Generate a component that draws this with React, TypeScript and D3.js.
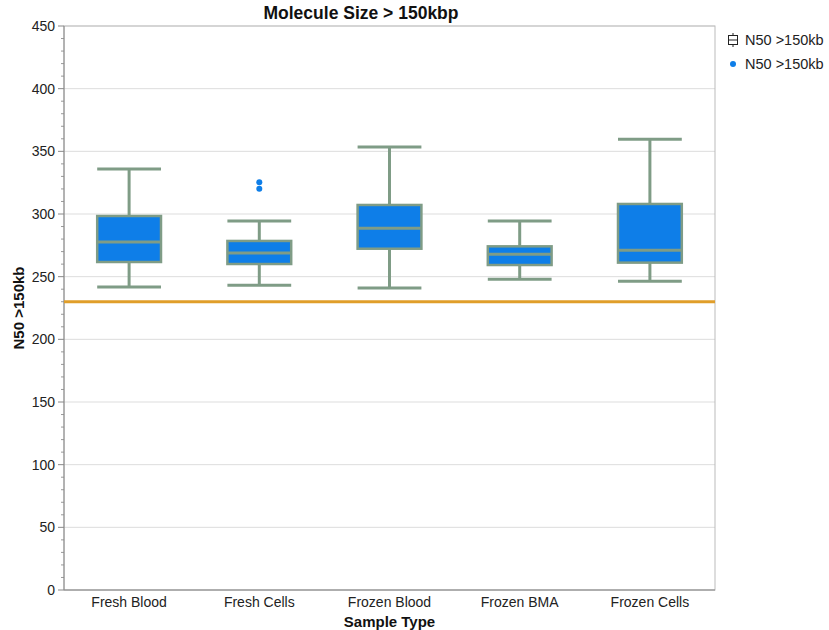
import React from "react";
import * as d3 from "d3";

const categories = ["Fresh Blood", "Fresh Cells", "Frozen Blood", "Frozen BMA", "Frozen Cells"];
const lowerWhisker = [241.8, 243.1, 241, 247.9, 246.3];
const q1 = [261.7, 260.1, 272.3, 259.3, 261.2];
const medians = [277.7, 268.9, 288.6, 267.8, 271];
const q3 = [298.4, 278.5, 307.2, 274.2, 308];
const upperWhisker = [336, 294.4, 353.5, 294.4, 359.6];
const outliers = [
  { cat: "Fresh Cells", value: 325.3 },
  { cat: "Fresh Cells", value: 320.2 },
];
const threshold = 230;
const yTicks = [0, 50, 100, 150, 200, 250, 300, 350, 400, 450];

const W = 829;
const H = 630;
const margin = { left: 64, right: 114, top: 26, bottom: 40 };
const font = "'Liberation Sans', Arial, Helvetica, sans-serif";
const boxFill = "#0e7ee8";
const boxStroke = "#7f9c86";

const App = () => {
  const x = d3
    .scaleBand()
    .domain(categories)
    .range([margin.left, W - margin.right])
    .paddingInner(0.51)
    .paddingOuter(0.255);
  const y = d3.scaleLinear().domain([0, 450]).range([H - margin.bottom, margin.top]);
  const minor = d3.range(0, 451, 10).filter(v => v % 50 !== 0);
  const bw = x.bandwidth();
  const x0 = margin.left;
  const x1 = W - margin.right;

  return (
    <svg width={W} height={H} style={{ position: "absolute", left: 0, top: 0 }} fontFamily={font}>
      <rect width={W} height={H} fill="#fff" />
      {yTicks.map(t => (
        <line key={t} x1={x0} x2={x1} y1={y(t)} y2={y(t)} stroke="#dddddd" strokeWidth={1} />
      ))}
      <rect x={x0} y={margin.top} width={x1 - x0} height={y(0) - margin.top} fill="none" stroke="#bbbbbb" />
      {minor.map(t => (
        <line key={t} x1={x0 - 3} x2={x0} y1={y(t)} y2={y(t)} stroke="#999" />
      ))}
      {yTicks.map(t => (
        <g key={t}>
          <line x1={x0 - 6} x2={x0} y1={y(t)} y2={y(t)} stroke="#888" />
          <text x={x0 - 9} y={y(t)} dy="0.35em" textAnchor="end" fontSize={14} fill="#222">
            {t}
          </text>
        </g>
      ))}
      <line x1={x0} x2={x0} y1={margin.top} y2={y(0)} stroke="#888" />
      <line x1={x0} x2={x1} y1={y(0)} y2={y(0)} stroke="#888" />
      {categories.map(c => (
        <text key={c} x={(x(c) ?? 0) + bw / 2} y={y(0) + 17} textAnchor="middle" fontSize={14} fill="#222">
          {c}
        </text>
      ))}
      {categories.map((c, i) => {
        const left = x(c) ?? 0;
        const cx = left + bw / 2;
        return (
          <g key={c}>
            <line x1={cx} x2={cx} y1={y(upperWhisker[i])} y2={y(q3[i])} stroke={boxStroke} strokeWidth={3} />
            <line x1={cx} x2={cx} y1={y(q1[i])} y2={y(lowerWhisker[i])} stroke={boxStroke} strokeWidth={3} />
            <line x1={left} x2={left + bw} y1={y(upperWhisker[i])} y2={y(upperWhisker[i])} stroke={boxStroke} strokeWidth={3} />
            <line x1={left} x2={left + bw} y1={y(lowerWhisker[i])} y2={y(lowerWhisker[i])} stroke={boxStroke} strokeWidth={3} />
            <rect
              x={left}
              y={y(q3[i])}
              width={bw}
              height={y(q1[i]) - y(q3[i])}
              fill={boxFill}
              stroke={boxStroke}
              strokeWidth={2.5}
            />
            <line x1={left} x2={left + bw} y1={y(medians[i])} y2={y(medians[i])} stroke={boxStroke} strokeWidth={3} />
          </g>
        );
      })}
      {outliers.map((o, i) => (
        <circle key={i} cx={(x(o.cat) ?? 0) + bw / 2} cy={y(o.value)} r={3} fill={boxFill} />
      ))}
      <line x1={x0} x2={x1} y1={y(threshold)} y2={y(threshold)} stroke="#e09e2a" strokeWidth={3} />
      <text x={361} y={19} textAnchor="middle" fontSize={17.5} fontWeight="bold" fill="#111">
        Molecule Size &gt; 150kbp
      </text>
      <text x={(x0 + x1) / 2} y={627} textAnchor="middle" fontSize={15} fontWeight="bold" fill="#111">
        Sample Type
      </text>
      <text
        transform={`translate(24, ${(margin.top + y(0)) / 2}) rotate(-90)`}
        textAnchor="middle"
        fontSize={15}
        fontWeight="bold"
        fill="#111"
      >
        N50 &gt;150kb
      </text>
      <g transform="translate(733, 40)">
        <line x1={0} x2={0} y1={-7} y2={7} stroke="#222" />
        <rect x={-4.5} y={-4.5} width={9} height={9} fill="#fff" stroke="#222" />
        <line x1={-4.5} x2={4.5} y1={0} y2={0} stroke="#222" />
        <text x={12} y={0} dy="0.35em" fontSize={14.5} fill="#222">
          N50 &gt;150kb
        </text>
      </g>
      <g transform="translate(733, 64)">
        <circle r={3} fill={boxFill} />
        <text x={12} y={0} dy="0.35em" fontSize={14.5} fill="#222">
          N50 &gt;150kb
        </text>
      </g>
    </svg>
  );
};

export default App;
